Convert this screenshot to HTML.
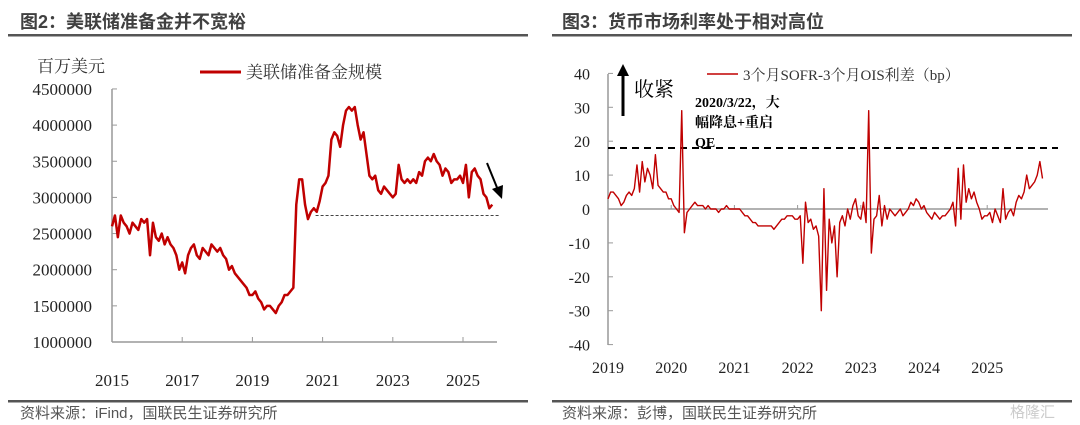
<!DOCTYPE html>
<html><head><meta charset="utf-8">
<style>
body{margin:0;background:#fff;width:1080px;height:420px;overflow:hidden;font-family:"Liberation Sans","Noto Sans CJK SC",sans-serif}
svg text{font-family:"Liberation Serif","Noto Serif CJK SC",serif}
.h{font-family:"Liberation Sans","Noto Sans CJK SC",sans-serif !important}
</style></head>
<body>
<svg id="c" width="1080" height="420" xmlns="http://www.w3.org/2000/svg">
<text class="h" x="20" y="28" font-size="18" font-weight="bold" fill="#404040">图2：美联储准备金并不宽裕</text>
<rect x="8" y="34" width="520" height="2.5" fill="#555"/>
<rect x="8" y="400" width="520" height="2.5" fill="#555"/>
<text class="h" x="20" y="418" font-size="15" fill="#555">资料来源：iFind，国联民生证券研究所</text>
<text class="h" x="562" y="28" font-size="18" font-weight="bold" fill="#404040">图3：货币市场利率处于相对高位</text>
<rect x="552" y="34" width="520" height="2.5" fill="#555"/>
<rect x="552" y="400" width="520" height="2.5" fill="#555"/>
<text class="h" x="562" y="418" font-size="15" fill="#555">资料来源：彭博，国联民生证券研究所</text>
<text class="h" x="1010" y="417" font-size="15" fill="#ccc">格隆汇</text>
<g id="g1"></g><g id="g2"></g>
</svg>
<script>
// Chart 2: reserves (thousand millions USD), monthly from 2015.0
const resYears=[2015,2017,2019,2021,2023,2025];
const resTicks=[1000000,1500000,2000000,2500000,3000000,3500000,4000000,4500000];
const resValues=[
2600,2750,2450,2750,2650,2600,2500,2650,2600,2550,2700,2650,
2700,2200,2650,2450,2400,2500,2350,2450,2350,2300,2200,2000,
2100,1950,2200,2300,2350,2200,2150,2300,2250,2200,2350,2300,
2250,2300,2200,2150,2000,2050,1950,1900,1850,1800,1750,1650,
1650,1700,1600,1550,1450,1500,1500,1450,1400,1500,1550,1650,
1650,1700,1750,2900,3250,3250,2900,2700,2800,2850,2800,2950,
3150,3200,3300,3800,3900,3850,3700,4000,4200,4250,4200,4250,
4000,3800,3900,3600,3300,3250,3300,3100,3050,3150,3100,3050,
3000,3050,3450,3250,3200,3250,3200,3250,3200,3350,3300,3500,
3550,3500,3600,3500,3450,3300,3400,3350,3200,3250,3250,3300,
3200,3450,3000,3350,3400,3300,3250,3050,3000,2850,2900];
const resFloor=[2750];

// Chart 3: SOFR-OIS spread (bp), semi-monthly from 2019.0
const sprYears=[2019,2020,2021,2022,2023,2024,2025];
const sprTicks=[-40,-30,-20,-10,0,10,20,30,40];
const sprValues=[
3,5,5,4,3,1,2,4,5,4,6,13,5,14,8,12,10,6,16,7,6,5,5,3,
3,1,0,-1,29,-7,-1,0,1,2,1,1,1,0,1,0,0,0,-1,0,0,1,0,0,
0,0,0,-1,-2,-2,-3,-4,-4,-5,-5,-5,-5,-5,-5,-6,-5,-4,-3,-3,-2,-2,-2,-3,
-3,-2,-16,2,-4,-3,-6,-5,-8,-30,6,-24,-3,-10,-5,-20,-4,-2,-5,0,-3,1,3,-2,
-3,2,-4,29,-13,-3,-2,4,-5,1,-3,0,-1,-2,-1,0,-2,-1,0,2,1,3,2,0,
1,-1,-2,-3,-1,-2,-3,-2,-2,-1,0,2,-5,12,-3,13,2,6,3,5,2,0,-3,-2,
-2,-1,-4,0,-2,-4,6,-3,-1,0,-2,2,4,3,5,10,6,7,8,10,14,9];
const sprThreshold=[18];

const NS="http://www.w3.org/2000/svg";
function mk(p,t,a){const e=document.createElementNS(NS,t);for(const k in a)e.setAttribute(k,a[k]);p.appendChild(e);return e;}

// chart 2
const g1=document.getElementById('g1');
const x1=y=>112+(y-2015)*35.1, y1=v=>342-(v-1000000)/1000000*72.3;
let e;
e=mk(g1,'line',{x1:112,y1:89,x2:112,y2:342,stroke:'#999','stroke-width':1.5});

e=mk(g1,'line',{x1:112,y1:342,x2:497,y2:342,stroke:'#999','stroke-width':1.5});

resTicks.forEach(t=>{const y=y1(t);mk(g1,'line',{x1:112,y1:y,x2:117,y2:y,stroke:'#999'});
 e=mk(g1,'text',{x:92,y:y+6,'text-anchor':'end','font-size':17,fill:'#222'});e.textContent=t;
 });
resYears.forEach(yr=>{const x=x1(yr);mk(g1,'line',{x1:x,y1:342,x2:x,y2:337,stroke:'#999'});
 e=mk(g1,'text',{x:x,y:386,'text-anchor':'middle','font-size':17,fill:'#222'});e.textContent=yr;
 });
e=mk(g1,'text',{x:37,y:72,'font-size':17,fill:'#333'});e.textContent='百万美元';

e=mk(g1,'line',{x1:200,y1:72,x2:241,y2:72,stroke:'#c00000','stroke-width':3});

e=mk(g1,'text',{x:246,y:78,'font-size':17,fill:'#333'});e.textContent='美联储准备金规模';

e=mk(g1,'line',{x1:x1(2020.8),y1:y1(resFloor[0]*1000),x2:500,y2:y1(resFloor[0]*1000),stroke:'#444','stroke-width':1,'stroke-dasharray':'3,2'});

e=mk(g1,'polyline',{fill:'none',stroke:'#c00000','stroke-width':2.5,'stroke-linejoin':'round',
 points:resValues.map((v,i)=>x1(2015+i/12)+','+y1(v*1000)).join(' ')});

e=mk(g1,'line',{x1:487,y1:163,x2:498,y2:190,stroke:'#000','stroke-width':2});

mk(g1,'polygon',{points:'502,199 492,189 503,185',fill:'#000'});

// chart 3
const g2=document.getElementById('g2');
const x2=y=>608+(y-2019)*63.2, y2=v=>209-v*3.39;
e=mk(g2,'line',{x1:608,y1:74,x2:608,y2:345,stroke:'#999','stroke-width':1.5});

sprTicks.forEach(t=>{const y=y2(t);mk(g2,'line',{x1:608,y1:y,x2:613,y2:y,stroke:'#999'});
 e=mk(g2,'text',{x:590,y:y+6,'text-anchor':'end','font-size':16,fill:'#222'});e.textContent=t;
 });
e=mk(g2,'line',{x1:608,y1:y2(0),x2:1048,y2:y2(0),stroke:'#999','stroke-width':1.5});

sprYears.forEach(yr=>{const x=x2(yr);mk(g2,'line',{x1:x,y1:y2(0),x2:x,y2:y2(0)-4,stroke:'#999'});
 e=mk(g2,'text',{x:x,y:373,'text-anchor':'middle','font-size':16,fill:'#222'});e.textContent=yr;
 });
e=mk(g2,'line',{x1:608,y1:y2(sprThreshold[0]),x2:1058,y2:y2(sprThreshold[0]),stroke:'#000','stroke-width':2,'stroke-dasharray':'7,5'});

e=mk(g2,'polyline',{fill:'none',stroke:'#c00000','stroke-width':1.4,'stroke-linejoin':'round',
 points:sprValues.map((v,i)=>x2(2019+i/24)+','+y2(v)).join(' ')});

e=mk(g2,'line',{x1:623,y1:116,x2:623,y2:74,stroke:'#000','stroke-width':3});

mk(g2,'polygon',{points:'617,76 629,76 623,64',fill:'#000'});
e=mk(g2,'text',{x:634,y:96,'font-size':20,fill:'#000'});e.textContent='收紧';

e=mk(g2,'line',{x1:707,y1:74,x2:738,y2:74,stroke:'#c00000','stroke-width':1.5});

e=mk(g2,'text',{x:743,y:80,'font-size':15,fill:'#333'});e.textContent='3个月SOFR-3个月OIS利差（bp）';

['2020/3/22，大','幅降息+重启','QE'].forEach((s,i)=>{e=mk(g2,'text',{x:695,y:107+i*20,'font-size':14,'font-weight':'bold',fill:'#000'});e.textContent=s;
 });
</script>
</body></html>
